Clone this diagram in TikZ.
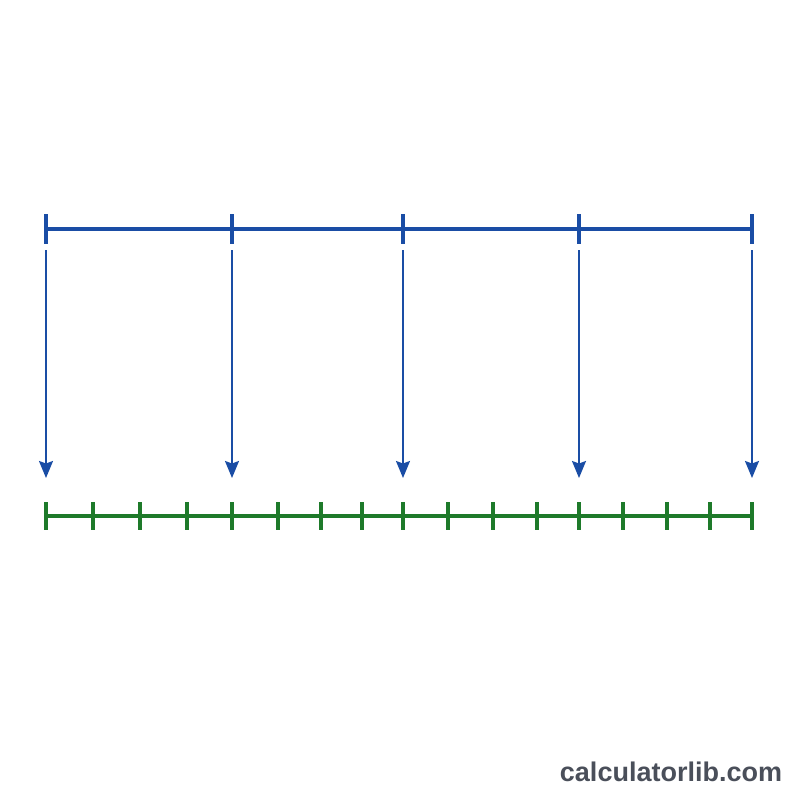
\documentclass[tikz,border=0pt]{standalone}
\usepackage{fontspec}
\setmainfont{Liberation Sans}
\usetikzlibrary{arrows.meta}
\definecolor{bl}{HTML}{1A4DA5}
\definecolor{gr}{HTML}{1E7A2A}
\definecolor{tx}{HTML}{4A4F5A}
\begin{document}
\begin{tikzpicture}[x=1pt,y=-1pt,
  bigline/.style={line width=3.6pt},
  bigtick/.style={line width=3.6pt},
  drop/.style={bl,line width=1.8pt,-{Stealth[length=17pt,width=14pt,inset=2.5pt]}},
  brand/.style={text=tx,font=\fontsize{27}{27}\selectfont\bfseries,inner sep=0pt}]
\fill[white] (0,0) rectangle (800,800);
\useasboundingbox (0,0) rectangle (800,800);
% blue top line
\foreach \n/\x in {0/46,1/232,2/403,3/579,4/752}{
  \coordinate (b\n) at (\x,229);
  \coordinate (s\n) at (\x,250);
  \coordinate (e\n) at (\x,478);
  \draw[bl,bigtick] (\x,214) -- (\x,244);
}
\draw[bl,bigline] (b0) -- (b4);
\foreach \n in {0,...,4}{
  \draw[drop] (s\n) -- (e\n);
}
% green bottom line
\foreach \n/\x in {0/46,1/93,2/140,3/187,4/232,5/278,6/321,7/362,8/403,9/448,10/493,11/537,12/579,13/623,14/667,15/710,16/752}{
  \coordinate (g\n) at (\x,516);
  \draw[gr,bigtick] (\x,502) -- (\x,530);
}
\draw[gr,bigline] (g0) -- (g16);
\node[brand] (brand) at (671,772) {calculatorlib.com};
\end{tikzpicture}
\end{document}
